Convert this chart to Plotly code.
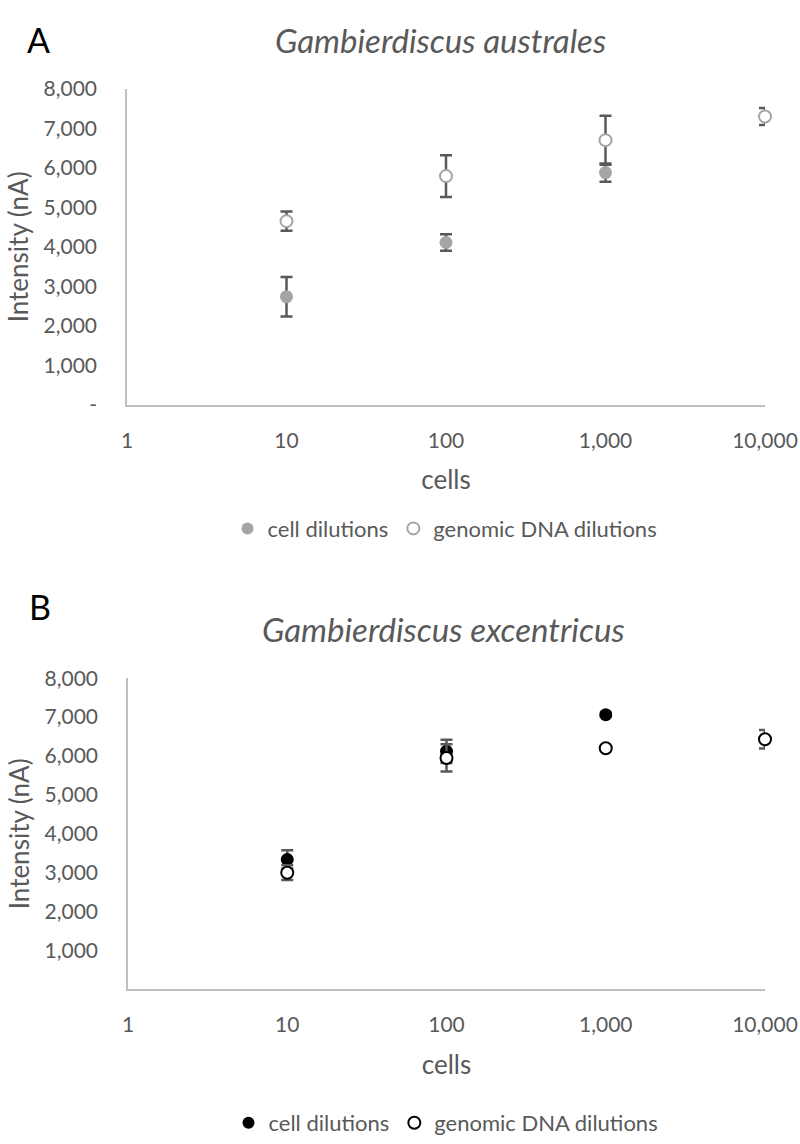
import plotly.graph_objects as go

# ---- data ----
cells_x = [10, 100, 1000, 10000]

a_cell_y = [2740, 4110, 5880]
a_cell_err = [500, 210, 230]
a_dna_y = [4650, 5790, 6700, 7300]
a_dna_err = [245, 530, 620, 215]

b_cell_y = [3340, 6120, 7060]
b_cell_err = [240, 300, 60]
b_dna_y = [3000, 5950, 6200, 6430]
b_dna_err = [190, 350, 60, 240]

y_tickvals = [0, 1000, 2000, 3000, 4000, 5000, 6000, 7000, 8000]
a_ticktext = ["-", "1,000", "2,000", "3,000", "4,000", "5,000", "6,000", "7,000", "8,000"]
b_ticktext = ["", "1,000", "2,000", "3,000", "4,000", "5,000", "6,000", "7,000", "8,000"]
x_tickvals = [1, 10, 100, 1000, 10000]
x_ticktext = ["1", "10", "100", "1,000", "10,000"]

FONT = "Lato"
TXT = "#595959"
W, H = 800, 1144

fig = go.Figure()

def err(arr):
    return dict(type="data", array=arr, visible=True, color="#595959", thickness=2.5, width=6)

# Panel A
fig.add_trace(go.Scatter(x=cells_x[:3], y=a_cell_y, mode="markers", name="cell dilutions",
                         marker=dict(size=13, color="#A5A5A5", line=dict(width=0)), cliponaxis=False,
                         error_y=err(a_cell_err), xaxis="x", yaxis="y", legend="legend"))
fig.add_trace(go.Scatter(x=cells_x, y=a_dna_y, mode="markers", name="genomic DNA dilutions",
                         marker=dict(size=12, color="white", line=dict(width=2, color="#A5A5A5")), cliponaxis=False,
                         error_y=err(a_dna_err), xaxis="x", yaxis="y", legend="legend"))
# Panel B
fig.add_trace(go.Scatter(x=cells_x[:3], y=b_cell_y, mode="markers", name="cell dilutions",
                         marker=dict(size=13, color="black", line=dict(width=0)), cliponaxis=False,
                         error_y=err(b_cell_err), xaxis="x2", yaxis="y2", legend="legend2"))
fig.add_trace(go.Scatter(x=cells_x, y=b_dna_y, mode="markers", name="genomic DNA dilutions",
                         marker=dict(size=12, color="white", line=dict(width=2, color="black")), cliponaxis=False,
                         error_y=err(b_dna_err), xaxis="x2", yaxis="y2", legend="legend2"))

def xdom(l, r):
    return [l / W, r / W]

def ydom(top, bottom):
    return [1 - bottom / H, 1 - top / H]

axis_common = dict(showline=True, linecolor="#BFBFBF", linewidth=1.5, showgrid=False,
                   zeroline=False, ticks="", tickfont=dict(family=FONT, size=21, color=TXT),
                   automargin=False)
xt = dict(text="cells", font=dict(family=FONT, size=26, color=TXT), standoff=20)
yt = dict(text="Intensity (nA)", font=dict(family=FONT, size=26, color=TXT), standoff=7)

fig.update_layout(
    width=W, height=H,
    margin=dict(l=0, r=0, t=0, b=0),
    paper_bgcolor="white", plot_bgcolor="white",
    font=dict(family=FONT, color=TXT),
    xaxis=dict(type="log", range=[0, 4], domain=xdom(127, 765), anchor="y",
               tickvals=x_tickvals, ticktext=x_ticktext, ticklabelstandoff=16, title=xt, **axis_common),
    yaxis=dict(range=[0, 8000], domain=ydom(89, 406), anchor="x",
               tickvals=y_tickvals, ticktext=a_ticktext, ticklabelstandoff=24, title=yt, **axis_common),
    xaxis2=dict(type="log", range=[0, 4], domain=xdom(128, 765), anchor="y2",
                tickvals=x_tickvals, ticktext=x_ticktext, ticklabelstandoff=16, title=xt, **axis_common),
    yaxis2=dict(range=[0, 8000], domain=ydom(680, 992), anchor="x2",
                tickvals=y_tickvals, ticktext=b_ticktext, ticklabelstandoff=24, title=yt, **axis_common),
    legend=dict(orientation="h", x=445 / W, xanchor="center", y=1 - 530 / H, yanchor="middle",
                font=dict(family=FONT, size=22, color=TXT), itemsizing="constant", itemwidth=30),
    legend2=dict(orientation="h", x=446 / W, xanchor="center", y=1 - 1126 / H, yanchor="middle",
                 font=dict(family=FONT, size=22, color=TXT), itemsizing="constant", itemwidth=30),
    showlegend=True,
)

fig.add_annotation(text="A", x=38 / W, y=1 - 40 / H, xref="paper", yref="paper",
                   showarrow=False, font=dict(family=FONT, size=34, color="black"), xanchor="center", yanchor="middle")
fig.add_annotation(text="<i>Gambierdiscus australes</i>", x=440 / W, y=1 - 40 / H, xref="paper", yref="paper",
                   showarrow=False, font=dict(family=FONT, size=33, color=TXT), xanchor="center", yanchor="middle")
fig.add_annotation(text="B", x=40 / W, y=1 - 608 / H, xref="paper", yref="paper",
                   showarrow=False, font=dict(family=FONT, size=34, color="black"), xanchor="center", yanchor="middle")
fig.add_annotation(text="<i>Gambierdiscus excentricus</i>", x=443 / W, y=1 - 631 / H, xref="paper", yref="paper",
                   showarrow=False, font=dict(family=FONT, size=33, color=TXT), xanchor="center", yanchor="middle")

fig.write_html("out.html")
